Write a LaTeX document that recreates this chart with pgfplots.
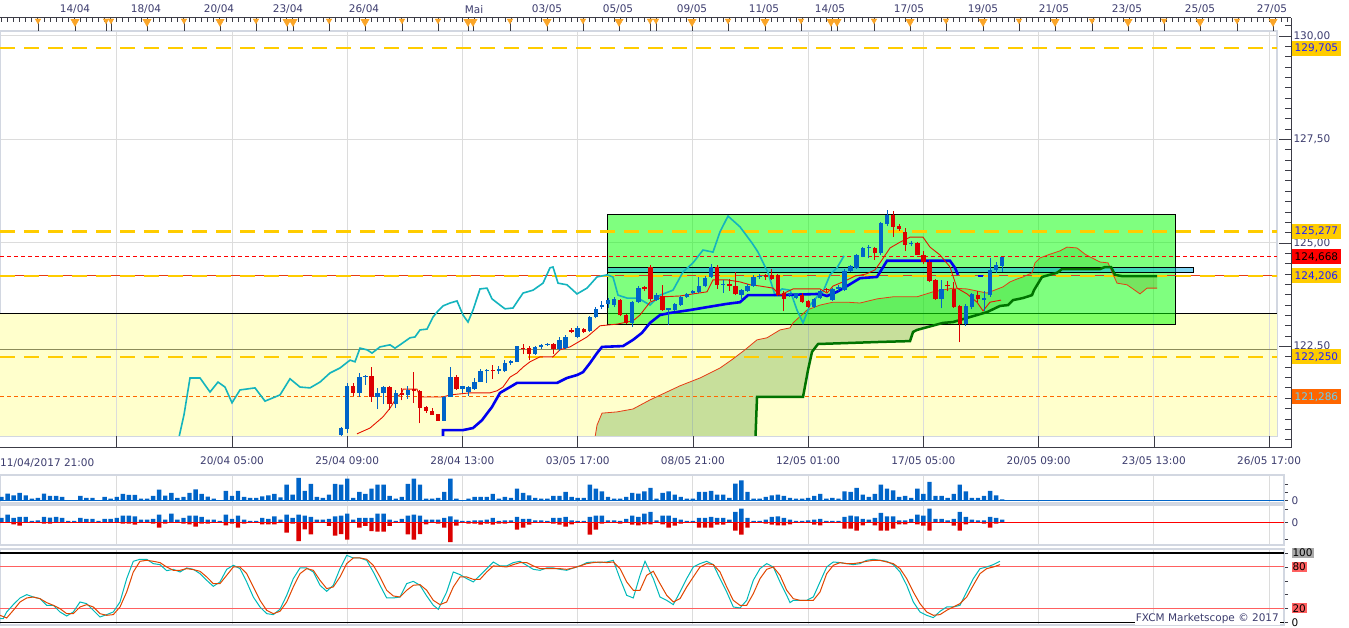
\documentclass[border=0pt]{standalone}
\usepackage{pgfplots}
\pgfplotsset{compat=1.18}
\usepackage{pgfplotstable}
\usepackage{fontspec}
\setmainfont{DejaVu Sans}
\setlength{\fboxsep}{1pt}
\definecolor{ybg}{RGB}{255,255,204}
\definecolor{cblue}{RGB}{0,100,200}
\definecolor{cred}{RGB}{220,0,0}
\definecolor{gold}{RGB}{255,204,0}
\definecolor{gridc}{RGB}{220,220,220}
\definecolor{framec}{RGB}{210,215,225}
\definecolor{txt}{RGB}{60,60,110}
\definecolor{axisc}{RGB}{60,60,70}
\definecolor{chik}{RGB}{20,180,190}
\definecolor{tenk}{RGB}{230,20,0}
\definecolor{kij}{RGB}{0,0,240}
\definecolor{senka}{RGB}{230,60,20}
\definecolor{senkb}{RGB}{0,115,0}
\definecolor{cloudg}{RGB}{51,140,25}
\definecolor{cloudr}{RGB}{200,80,50}
\definecolor{tri}{RGB}{250,165,40}
\definecolor{stk}{RGB}{0,185,185}
\definecolor{std}{RGB}{225,70,0}
\definecolor{olivl}{RGB}{140,140,90}
\definecolor{st80}{RGB}{255,96,96}
\definecolor{st100}{RGB}{170,170,170}
\definecolor{orng}{RGB}{255,102,0}
\definecolor{lblue}{RGB}{30,30,255}

\pgfplotstableread{
i o h l c
56 120.36 120.55 120.34 120.53
57 120.51 121.61 120.42 121.55
59 121.38 121.85 121.29 121.77
60 121.76 121.80 121.57 121.79
62 121.29 121.50 120.99 121.38
63 121.37 121.55 121.11 121.51
65 121.10 121.45 121.01 121.38
67 121.33 121.55 121.24 121.45
73 120.71 121.31 120.71 121.29
74 121.29 122.01 121.29 121.77
76 121.47 121.55 121.38 121.55
77 121.41 121.55 121.30 121.51
78 121.47 121.75 121.45 121.65
79 121.64 121.95 121.64 121.91
80 121.90 121.95 121.62 121.93
82 121.90 122.03 121.84 121.95
83 121.90 122.18 121.88 122.10
84 122.09 122.18 122.05 122.15
85 122.13 122.52 122.13 122.50
88 122.33 122.51 122.30 122.48
89 122.48 122.57 122.45 122.53
90 122.53 122.58 122.51 122.56
92 122.43 122.72 122.40 122.66
93 122.46 122.78 122.44 122.73
95 122.73 123.00 122.70 122.95
97 122.88 123.24 122.86 123.22
98 123.22 123.45 123.18 123.41
99 123.46 123.60 123.40 123.50
100 123.53 123.66 123.44 123.62
101 123.50 123.70 123.45 123.65
104 123.07 123.60 122.97 123.57
105 123.57 123.97 123.55 123.92
108 123.62 123.80 123.60 123.74
110 123.38 123.44 123.02 123.42
111 123.38 123.55 123.36 123.52
112 123.50 123.72 123.48 123.70
113 123.70 123.80 123.68 123.77
114 123.78 123.86 123.76 123.84
115 123.82 124.19 123.80 123.96
116 123.95 124.20 123.93 124.15
117 124.18 124.50 124.15 124.42
119 123.98 124.10 123.80 124.01
122 123.75 123.90 123.62 123.86
123 123.84 124.00 123.82 123.96
124 123.96 124.22 123.94 124.19
125 124.18 124.26 124.14 124.20
130 123.74 123.80 123.70 123.78
131 123.66 123.80 123.64 123.78
134 123.46 123.66 123.44 123.64
135 123.66 123.86 123.64 123.84
137 123.62 123.92 123.60 123.90
138 123.90 123.98 123.85 123.93
139 123.86 124.36 123.84 124.32
140 124.32 124.46 124.30 124.44
141 124.39 124.73 124.37 124.71
142 124.67 124.91 124.65 124.89
143 124.88 124.95 124.63 124.90
145 124.75 125.50 124.70 125.48
146 125.46 125.80 125.40 125.68
150 124.97 125.05 124.92 125.00
155 123.65 124.10 123.42 123.89
159 123.04 123.52 123.00 123.48
160 123.46 123.78 123.40 123.76
162 123.62 123.85 123.36 123.66
163 123.74 124.63 123.70 124.35
164 124.34 124.55 124.28 124.47
165 124.45 124.67 124.30 124.67
}\candleup

\pgfplotstableread{
i o h l c
58 121.55 121.62 121.30 121.38
61 121.79 122.00 121.17 121.29
64 121.51 121.55 120.97 121.10
66 121.38 121.50 121.20 121.33
68 121.48 121.88 121.13 121.42
69 121.42 121.45 120.64 121.02
70 121.04 121.07 120.90 120.94
71 120.95 121.02 120.85 120.85
72 120.87 120.87 120.71 120.71
75 121.77 121.82 121.45 121.47
81 121.93 122.05 121.71 121.90
86 122.47 122.55 122.31 122.43
87 122.47 122.51 122.17 122.33
91 122.56 122.58 122.31 122.43
94 122.90 122.95 122.82 122.85
96 122.92 122.95 122.83 122.86
102 123.62 123.64 123.24 123.26
103 123.26 123.28 123.05 123.07
106 123.93 123.97 123.84 123.88
107 124.43 124.48 123.60 123.64
109 123.72 123.98 123.36 123.38
118 124.42 124.47 123.90 123.99
120 124.00 124.12 123.85 123.97
121 123.96 124.31 123.74 123.76
126 124.22 124.25 124.10 124.17
127 124.22 124.38 124.10 124.14
128 124.22 124.25 123.72 123.75
129 123.78 123.85 123.35 123.65
132 123.74 123.78 123.55 123.57
133 123.60 123.62 123.44 123.46
136 123.90 123.92 123.82 123.86
144 124.89 124.91 124.59 124.75
147 125.68 125.78 125.15 125.39
148 125.42 125.45 125.30 125.34
149 125.26 125.36 124.80 124.95
151 124.99 125.02 124.70 124.72
152 124.72 124.80 124.49 124.53
153 124.55 124.58 124.05 124.08
154 124.10 124.12 123.63 123.65
156 123.98 124.07 123.84 123.95
157 123.89 124.05 123.44 123.46
158 123.48 123.50 122.60 123.04
161 123.74 123.85 123.58 123.64
}\candledown

\pgfplotstableread{
x y
178 120.20
184 120.85
190 121.74
200 121.74
210 121.40
218 121.64
225 121.52
232 121.14
240 121.45
255 121.50
265 121.18
280 121.33
290 121.72
300 121.52
310 121.50
320 121.64
330 121.86
340 121.98
350 122.17
355 122.13
360 122.46
367 122.42
372 122.34
380 122.49
390 122.54
395 122.46
400 122.54
410 122.71
415 122.73
420 122.90
427 122.92
433 123.21
437 123.33
443 123.48
450 123.55
457 123.60
463 123.26
468 123.09
473 123.38
480 123.89
487 123.91
492 123.65
500 123.50
505 123.41
513 123.43
523 123.79
533 123.86
543 124.03
550 124.40
553 124.42
558 124.03
567 123.99
577 123.77
587 123.91
597 124.18
607 124.23
613 124.18
618 123.74
627 123.67
638 123.67
650 123.50
660 123.74
673 123.86
683 124.30
693 124.52
703 124.83
713 124.78
720 125.27
728 125.65
740 125.39
752 125.00
758 124.78
768 124.28
775 123.74
782 123.89
790 123.86
797 123.38
803 123.07
810 123.50
817 123.70
823 123.82
830 124.23
837 124.40
844 124.69
}\chikou

\pgfplotstableread{
x y
357 120.39
370 120.53
383 120.80
390 121.01
397 121.28
402 121.38
403 121.47
417 121.47
420 121.28
443 121.28
450 121.33
470 121.38
490 121.38
497 121.43
503 121.52
510 121.76
517 121.86
523 122.00
530 122.13
540 122.25
553 122.25
560 122.42
570 122.49
587 122.73
600 123.00
617 123.04
633 123.12
640 123.26
650 123.57
663 123.70
680 123.72
693 123.77
707 123.82
713 124.11
727 124.11
740 124.06
750 123.99
760 123.96
773 123.91
780 123.74
793 123.89
820 123.89
827 123.79
833 123.96
845 124.08
855 124.20
866 124.25
875 124.35
880 124.52
890 124.88
900 125.02
910 125.14
923 125.14
930 124.90
940 124.71
950 124.42
957 123.91
967 123.77
977 123.57
983 123.36
990 123.57
1001 123.62
}\tenkan

\pgfplotstableread{
x y
443 120.20
443 120.48
463 120.48
473 120.53
482 120.72
492 121.04
500 121.38
510 121.52
517 121.62
557 121.62
567 121.74
577 121.81
583 121.88
590 122.10
597 122.34
602 122.49
623 122.51
633 122.66
642 122.83
650 123.07
660 123.26
670 123.31
690 123.38
707 123.45
727 123.53
740 123.57
748 123.74
780 123.74
820 123.77
827 123.72
837 123.82
847 123.96
860 124.15
877 124.18
887 124.57
950 124.57
955 124.40
958 124.23
}\kijun

\pgfplotstableread{
x y
593 120.00
597 120.60
602 120.89
617 120.92
633 120.99
650 121.21
665 121.38
680 121.55
700 121.74
720 121.98
733 122.20
745 122.42
757 122.66
767 122.71
780 122.90
790 122.95
793 123.07
807 123.38
820 123.50
833 123.57
847 123.57
860 123.55
877 123.65
893 123.70
917 123.70
933 123.82
953 123.91
967 123.89
987 123.79
1003 123.94
1010 124.06
1017 124.13
1023 124.18
1032 124.28
1035 124.52
1040 124.64
1050 124.73
1060 124.81
1067 124.90
1077 124.88
1085 124.73
1092 124.64
1100 124.54
1108 124.52
1112 124.30
1117 124.03
1127 123.99
1133 123.89
1140 123.77
1147 123.91
1157 123.91
}\senkA

\pgfplotstableread{
x y
597 120.00
755 120.00
757 121.28
803 121.28
808 121.93
812 122.37
818 122.56
880 122.61
910 122.63
913 122.85
917 122.90
943 123.07
953 123.09
967 123.19
977 123.26
987 123.33
1000 123.48
1008 123.50
1013 123.62
1023 123.67
1032 123.74
1034 123.86
1042 124.18
1057 124.28
1062 124.37
1100 124.37
1105 124.42
1111 124.42
1115 124.23
1122 124.20
1157 124.20
}\senkB

% cloud outlines: senkou A forward, senkou B backward (A above B)
\pgfplotstableread{
x y
593 120.00
597 120.60
602 120.89
617 120.92
633 120.99
650 121.21
665 121.38
680 121.55
700 121.74
720 121.98
733 122.20
745 122.42
757 122.66
767 122.71
780 122.90
790 122.95
793 123.07
807 123.38
820 123.50
833 123.57
847 123.57
860 123.55
877 123.65
893 123.70
917 123.70
933 123.82
953 123.91
967 123.89
987 123.79
1003 123.94
1010 124.06
1017 124.13
1023 124.18
1032 124.28
1035 124.52
1040 124.64
1050 124.73
1060 124.81
1067 124.90
1077 124.88
1085 124.73
1092 124.64
1100 124.54
1108 124.52
1110.5 124.41
1105 124.42
1100 124.37
1062 124.37
1057 124.28
1042 124.18
1034 123.86
1032 123.74
1023 123.67
1013 123.62
1008 123.50
1000 123.48
987 123.33
977 123.26
967 123.19
953 123.09
943 123.07
917 122.90
913 122.85
910 122.63
880 122.61
818 122.56
812 122.37
808 121.93
803 121.28
757 121.28
755 120.00
597 120.00
}\cloudbull

% cloud part where senkou A is below senkou B
\pgfplotstableread{
x y
1110.5 124.41
1112 124.30
1117 124.03
1127 123.99
1133 123.89
1140 123.77
1147 123.91
1157 123.91
1157 124.20
1122 124.20
1115 124.23
1111 124.42
}\cloudbear

\pgfplotstableread{
i v u d
0 10 13 0
1 20 23 0
2 15 13 -6
3 22 16 -10
4 15 16 0
5 5 4 0
6 7 6 0
7 20 16 -4
8 13 14 -4
9 13 16 0
10 10 13 0
11 0 4 0
12 0 4 0
13 13 13 0
14 7 10 0
15 7 10 0
16 0 4 0
17 10 10 0
18 5 10 0
19 10 13 0
20 19 20 -4
21 16 20 -4
22 16 18 -7
23 5 8 0
24 5 8 0
25 13 10 -4
26 32 23 -16
27 14 8 -4
28 22 26 0
29 7 8 0
30 10 13 -4
31 22 20 -6
32 33 20 -13
33 19 16 -4
34 11 8 -4
35 5 8 0
36 0 4 0
37 28 23 -9
38 13 10 -4
39 28 20 -16
40 10 8 -4
41 7 4 0
42 7 4 0
43 12 13 -6
44 15 10 -6
45 19 18 -6
46 9 8 0
47 47 23 -31
48 17 13 -4
49 67 23 -56
50 28 20 -21
51 49 16 -36
52 10 8 0
53 7 8 0
54 17 10 -11
55 49 18 -40
56 47 20 -35
57 65 26 -52
58 7 8 0
59 25 13 -16
60 19 13 -11
61 35 13 -26
62 47 26 -28
63 47 26 -28
64 13 8 -11
65 5 4 0
66 10 10 0
67 49 20 -36
68 65 23 -52
69 47 20 -35
70 5 8 -6
71 5 8 0
72 7 8 -4
73 25 13 -16
74 65 18 -59
75 5 8 -10
76 0 4 0
77 5 4 -4
78 10 6 -4
79 10 6 -7
80 10 8 -4
81 19 13 -7
82 5 4 -4
83 10 6 -4
84 7 6 0
85 35 16 -22
86 22 10 -16
87 15 10 -7
88 7 6 0
89 5 6 0
90 5 4 0
91 13 13 -4
92 13 13 -7
93 25 16 -13
94 10 6 -6
95 7 4 0
96 7 4 0
97 47 16 -37
98 35 20 -22
99 27 20 -4
100 10 6 0
101 5 6 0
102 5 4 -4
103 10 10 0
104 22 20 -7
105 20 16 -9
106 27 26 -6
107 37 31 -6
108 5 6 0
109 22 20 -6
110 27 20 -16
111 17 13 -10
112 10 8 -4
113 5 4 0
114 5 4 0
115 25 13 -16
116 25 13 -16
117 28 16 -16
118 17 13 -7
119 17 13 -7
120 7 8 0
121 50 31 -25
122 60 41 -37
123 25 13 -16
124 5 4 0
125 5 4 0
126 10 8 -4
127 15 16 -7
128 17 18 -9
129 13 13 -9
130 7 8 -6
131 5 4 0
132 5 4 0
133 7 6 0
134 13 8 -7
135 19 10 -9
136 5 4 0
137 7 4 0
138 5 4 0
139 27 16 -19
140 25 20 -19
141 37 18 -25
142 17 10 -9
143 10 8 0
144 19 13 -9
145 47 28 -25
146 35 18 -25
147 30 18 -19
148 10 6 -6
149 13 6 -6
150 7 10 0
151 35 23 -6
152 19 20 -10
153 55 41 -25
154 13 10 0
155 13 10 0
156 7 6 0
157 19 10 -10
158 47 31 -25
159 27 16 -6
160 7 8 0
161 7 6 0
162 13 6 -4
163 28 16 -16
164 15 13 -4
165 3 8 0
}\voltab

\pgfplotstableread{
x y
0 5.3
3.3 5.3
6.7 14.9
13.3 25.5
20 35.1
26.7 39.9
33.3 36.5
40 34.1
46.7 24.5
53.3 24.5
60 14.9
66.7 9.1
73.3 14.9
80 29.3
86.7 26.9
93.3 17.3
100 7.7
106.7 11.1
113.3 14.9
120 29.3
126.7 63.0
133.3 88.0
140 90.9
146.7 90.9
153.3 84.6
160 83.2
166.7 74.5
173.3 76.4
180 72.6
186.7 78.4
193.3 76.4
200 70.2
206.7 60.6
213.3 51.9
220 58.2
226.7 76.4
233.3 82.2
240 77.4
246.7 58.2
253.3 36.5
260 22.1
266.7 12.5
273.3 11.1
280 18.8
286.7 38.9
293.3 63.0
300 78.4
306.7 78.4
313.3 72.6
320 53.4
326.7 44.7
333.3 53.4
340 77.4
346.7 96.6
353.3 92.8
360 92.8
366.7 89.4
373.3 72.6
380 53.4
386.7 35.1
393.3 35.1
400 36.5
406.7 55.8
413.3 59.1
420 53.4
426.7 38.0
433.3 24.5
438.3 18.8
446.7 43.8
453.3 72.6
460 68.8
466.7 63.0
473.3 58.2
480 67.8
486.7 77.4
493.3 87.0
500 81.3
506.7 81.3
513.3 86.1
520 88.0
526.7 82.2
533.3 76.4
540 75.0
546.7 78.4
553.3 78.4
560 76.4
566.7 75.0
573.3 78.4
580 81.3
586.7 86.1
593.3 87.0
600 86.1
606.7 87.0
613.3 89.4
620 63.0
626.7 38.9
633.3 35.1
640 67.8
645 88.0
653.3 63.0
660 36.5
666.7 31.7
673.3 25.5
680 43.8
686.7 63.0
693.3 79.8
700 84.6
706.7 88.0
713.3 83.2
720 63.0
726.7 43.8
733.3 22.1
740 20.7
746.7 31.7
753.3 60.6
760 77.4
766.7 84.6
773.3 79.8
780 58.2
786.7 38.9
790 28.4
793.3 31.7
800 31.7
806.7 31.7
813.3 36.5
820 58.2
826.7 79.8
833.3 87.0
840 86.1
846.7 84.6
853.3 83.2
860 84.6
866.7 89.4
873.3 90.9
880 89.4
886.7 88.0
893.3 83.2
900 72.6
906.7 53.4
913.3 29.3
920 14.9
926.7 10.1
933.3 6.7
940 15.9
946.7 22.1
953.3 22.1
960 24.5
966.7 43.8
973.3 63.0
980 77.4
986.7 79.8
993.3 83.2
1000 88.0
}\stochK

\pgfplotstableread{
x y
0 10.1
6.7 6.3
13.3 17.3
20 29.3
26.7 35.1
33.3 36.5
40 34.1
46.7 28.4
53.3 24.5
60 19.7
66.7 12.5
73.3 12.5
80 22.1
86.7 25.5
93.3 22.1
100 12.5
106.7 10.1
113.3 11.1
120 22.1
126.7 43.8
133.3 72.6
140 88.0
146.7 89.4
153.3 88.0
160 86.1
166.7 79.8
173.3 75.0
180 75.0
186.7 77.4
193.3 76.0
200 73.6
206.7 65.4
213.3 55.8
220 55.8
226.7 67.8
233.3 79.8
240 79.8
246.7 70.2
253.3 51.0
260 31.7
266.7 17.3
273.3 12.5
280 15.9
286.7 29.3
293.3 51.0
300 70.2
306.7 77.4
313.3 75.0
320 60.6
326.7 48.6
333.3 51.0
340 65.4
346.7 84.6
353.3 92.8
360 92.8
366.7 90.9
373.3 82.2
380 65.4
386.7 46.2
393.3 38.0
400 36.5
406.7 46.2
413.3 53.4
420 54.3
426.7 46.2
433.3 31.7
440 25.5
446.7 29.3
453.3 51.0
460 65.4
466.7 65.4
473.3 62.0
480 62.0
486.7 72.6
493.3 81.3
500 80.8
506.7 79.8
513.3 83.2
520 86.1
526.7 86.1
533.3 81.3
540 77.4
546.7 77.4
553.3 77.4
560 77.4
566.7 76.4
573.3 78.4
580 81.3
586.7 84.6
593.3 86.1
600 87.0
606.7 86.1
613.3 87.0
620 77.4
626.7 58.2
633.3 46.2
640 46.2
646.7 67.8
653.3 73.6
660 55.8
666.7 38.9
673.3 29.3
680 34.1
686.7 51.0
693.3 65.4
700 79.8
706.7 84.6
713.3 83.2
720 72.6
726.7 51.0
733.3 31.7
740 24.5
746.7 24.5
753.3 41.3
760 63.0
766.7 76.4
773.3 79.8
780 67.8
786.7 46.2
793.3 34.1
800 31.7
806.7 31.7
813.3 31.7
820 43.8
826.7 70.2
833.3 82.2
840 86.1
846.7 84.6
853.3 84.6
860 86.1
866.7 88.0
873.3 89.4
880 89.4
886.7 87.0
893.3 84.6
900 77.4
906.7 63.0
913.3 43.8
920 26.9
926.7 14.9
933.3 10.1
940 11.1
946.7 17.3
953.3 22.1
960 26.9
966.7 36.5
973.3 53.4
980 70.2
986.7 77.4
993.3 79.8
1000 83.2
}\stochD

\newcommand{\gridx}{116.7,232.0,347.2,462.4,577.7,692.9,808.1,923.4,1038.6,1153.9,1269.1}
\newcommand{\lblfont}{\fontsize{10.5}{12}\selectfont}

\begin{document}
\begin{tikzpicture}
\useasboundingbox (0pt,0pt) rectangle (1349pt,628pt);
\fill[white] (0pt,0pt) rectangle (1349pt,628pt);

% ---------------- main price panel ----------------
\begin{axis}[at={(0pt,192pt)}, anchor=south west, scale only axis,
  width=1277pt, height=405pt, xmin=0, xmax=1277, ymin=120.338, ymax=130.121,
  axis line style={draw=framec, line width=2pt},
  xtick/.expanded={\gridx}, ytick={125,127.5,130},
  xticklabels={}, yticklabels={}, xtick style={draw=none}, ytick style={draw=none},
  grid=major, grid style={draw=gridc, line width=1pt}, unbounded coords=jump]
\fill[ybg] (axis cs:0,120.338) rectangle (axis cs:1277,123.285);
\addplot[draw=gridc, line width=1pt] coordinates {(116.7,120.3) (116.7,123.285) (116.7,nan) (232.0,120.3) (232.0,123.285) (232.0,nan) (347.2,120.3) (347.2,123.285) (347.2,nan) (462.4,120.3) (462.4,123.285) (462.4,nan) (577.7,120.3) (577.7,123.285) (577.7,nan) (692.9,120.3) (692.9,123.285) (692.9,nan) (808.1,120.3) (808.1,123.285) (808.1,nan) (923.4,120.3) (923.4,123.285) (923.4,nan) (1038.6,120.3) (1038.6,123.285) (1038.6,nan) (1153.9,120.3) (1153.9,123.285) (1153.9,nan) (1269.1,120.3) (1269.1,123.285)};
\addplot[black, line width=1pt] coordinates {(0,123.285) (1277,123.285)};
\addplot[olivl, line width=1pt] coordinates {(0,122.43) (1277,122.43)};
% cloud fills
\addplot[fill=cloudg, fill opacity=0.27, draw=none] table {\cloudbull};
\addplot[fill=cloudr, fill opacity=0.3, draw=none] table {\cloudbear};
% rectangles
\draw[black, line width=1pt, fill=green, fill opacity=0.5] (axis cs:607,123.02) rectangle (axis cs:1175,125.68);
\draw[black, line width=1pt, fill=cyan, fill opacity=0.5] (axis cs:607,124.28) rectangle (axis cs:1193,124.40);
% levels
\addplot[senka, line width=0.8pt] coordinates {(0,124.206) (1277,124.206)};
\addplot[gold, line width=2.5pt, dash pattern=on 15pt off 9pt] coordinates {(0,129.705) (1277,129.705)};
\addplot[gold, line width=2.5pt, dash pattern=on 15pt off 9pt] coordinates {(0,125.277) (1277,125.277)};
\addplot[gold, line width=2.5pt, dash pattern=on 15pt off 9pt] coordinates {(0,124.206) (1277,124.206)};
\addplot[gold, line width=2.5pt, dash pattern=on 15pt off 9pt] coordinates {(0,122.250) (1277,122.250)};
\addplot[red, line width=1pt, dash pattern=on 4pt off 3pt] coordinates {(0,124.668) (1277,124.668)};
\addplot[orng, line width=1pt, dash pattern=on 4pt off 3pt] coordinates {(0,121.286) (1277,121.286)};
% indicator lines
\addplot[senka, line width=0.8pt] table {\senkA};
\addplot[senkb, line width=2.5pt] table {\senkB};
\addplot[chik, line width=1.6pt] table {\chikou};
\addplot[kij, line width=2.6pt] table {\kijun};
\addplot[kij, line width=2.6pt] coordinates {(978,124.20) (983,124.20)};
\addplot[tenk, line width=0.9pt] table {\tenkan};
% candles: wicks
\addplot[draw=none, mark=none, error bars/.cd, y dir=plus, y explicit, error mark=none,
  error bar style={draw=cblue, line width=1pt}]
  table[x expr=6.065*\thisrow{i}+1.5, y=l, y error plus expr=\thisrow{h}-\thisrow{l}] {\candleup};
\addplot[draw=none, mark=none, error bars/.cd, y dir=plus, y explicit, error mark=none,
  error bar style={draw=cred, line width=1pt}]
  table[x expr=6.065*\thisrow{i}+1.5, y=l, y error plus expr=\thisrow{h}-\thisrow{l}] {\candledown};
% candles: bodies
\addplot[draw=none, mark=none, error bars/.cd, y dir=plus, y explicit, error mark=none,
  error bar style={draw=cblue, line width=4.4pt}]
  table[x expr=6.065*\thisrow{i}+1.5, y=o, y error plus expr={max(\thisrow{c}-\thisrow{o},0.03)}] {\candleup};
\addplot[draw=none, mark=none, error bars/.cd, y dir=plus, y explicit, error mark=none,
  error bar style={draw=cred, line width=4.4pt}]
  table[x expr=6.065*\thisrow{i}+1.5, y=c, y error plus expr={max(\thisrow{o}-\thisrow{c},0.03)}] {\candledown};
\end{axis}

% ---------------- price scale and time axis ----------------
\begin{axis}[at={(0pt,180pt)}, anchor=south west, scale only axis,
  width=1291pt, height=430pt, xmin=0, xmax=1291, ymin=120.048, ymax=130.435,
  axis x line*=bottom, axis y line*=right, clip=false,
  axis line style={draw=axisc, line width=1pt}, tick style={draw=axisc, line width=0.8pt},
  tick align=inside, major tick length=12pt, minor tick length=6pt,
  xtick/.expanded={\gridx},
  xticklabels={,20/04 05:00,25/04 09:00,28/04 13:00,03/05 17:00,08/05 21:00,12/05 01:00,17/05 05:00,20/05 09:00,23/05 13:00,26/05 17:00},
  minor x tick num=7,
  ytick={122.5,125,127.5,130}, yticklabels={{122,50},{125,00},{127,50},{130,00}},
  minor ytick={120.25,120.5,...,130.3},
  tick label style={font=\lblfont, text=txt},
  xticklabel style={yshift=-5pt}, yticklabel style={xshift=-1pt}]
\node[anchor=west, font=\lblfont, text=txt, inner sep=0pt] at (axis cs:0,119.68) {11/04/2017 21:00};
\tikzset{lbl/.style={anchor=west, font=\lblfont, inner xsep=2.5pt, inner ysep=2.5pt, minimum width=48pt, minimum height=15pt}}
\node[lbl, fill=gold, text=lblue] at (axis cs:1292,129.705) {129,705};
\node[lbl, fill=gold, text=lblue] at (axis cs:1292,125.277) {125,277};
\node[lbl, fill=red, text=black] at (axis cs:1292,124.668) {124,668};
\node[lbl, fill=gold, text=lblue] at (axis cs:1292,124.206) {124,206};
\node[lbl, fill=gold, text=lblue] at (axis cs:1292,122.250) {122,250};
\node[lbl, fill=orng, text=cyan!60!white] at (axis cs:1292,121.286) {121,286};
\end{axis}

% ---------------- top date ruler ----------------
\begin{axis}[at={(0pt,597pt)}, anchor=south west, scale only axis,
  width=1291pt, height=13pt, xmin=0, xmax=1291, ymin=0, ymax=1,
  axis x line*=top, axis y line=none, clip=false,
  axis line style={draw=axisc, line width=1pt},
  xtick={75,146,219,288,364,474,547,618,692,764,830,909,983,1054,1127,1200,1272},
  xticklabels={14/04,18/04,20/04,23/04,26/04,Mai,03/05,05/05,09/05,11/05,14/05,17/05,19/05,21/05,23/05,25/05,27/05},
  major tick length=0pt, minor xtick={1.5,7.565,...,1291}, minor tick length=4pt,
  tick align=inside, tick style={draw=axisc, line width=0.8pt},
  tick label style={font=\lblfont, text=txt}, xticklabel style={yshift=1pt}]
\addplot[ycomb, draw=axisc, line width=0.8pt] coordinates {
(38,0.8) (75,0.8) (106,0.8) (111,0.8) (147,0.8) (184,0.8) (220,0.8) (256,0.8) (287,0.8) (293,0.8)
(329,0.8) (365,0.8) (402,0.8) (438,0.8) (468,0.8) (473,0.8) (510,0.8) (547,0.8) (583,0.8) (619,0.8)
(650,0.8) (656,0.8) (692,0.8) (728,0.8) (765,0.8) (801,0.8) (831,0.8) (837,0.8) (874,0.8) (910,0.8)
(946,0.8) (983,0.8) (1019,0.8) (1055,0.8) (1092,0.8) (1128,0.8) (1164,0.8) (1200,0.8) (1237,0.8) (1273,0.8)};
\addplot[only marks, mark=triangle*, mark size=3.2pt, mark options={rotate=180, fill=tri, draw=tri}] coordinates {
(38,0.8) (106,0.8) (111,0.8) (184,0.8) (256,0.8) (329,0.8) (402,0.8) (438,0.8) (510,0.8) (583,0.8)
(650,0.8) (656,0.8) (728,0.8) (801,0.8) (874,0.8) (946,0.8) (1019,0.8) (1092,0.8) (1164,0.8) (1237,0.8)};
\addplot[only marks, mark=triangle*, mark size=4.8pt, mark options={rotate=180, fill=tri, draw=tri}] coordinates {
(75,0.72) (147,0.72) (220,0.72) (287,0.72) (293,0.72) (365,0.72) (468,0.72) (473,0.72) (547,0.72) (619,0.72)
(692,0.72) (765,0.72) (831,0.72) (837,0.72) (910,0.72) (983,0.72) (1055,0.72) (1128,0.72) (1200,0.72) (1273,0.72)};
\end{axis}

% ---------------- volume panel ----------------
\begin{axis}[at={(0pt,125.3pt)}, anchor=south west, scale only axis,
  width=1284pt, height=27.4pt, xmin=0, xmax=1284, ymin=-7.2, ymax=75,
  axis line style={draw=framec, line width=2pt},
  xtick/.expanded={\gridx}, xticklabels={}, xtick style={draw=none},
  xmajorgrids=true, grid style={draw=gridc, line width=1pt},
  ytick={0,25,50}, yticklabels={0,,}, ytick pos=right, yticklabel pos=right,
  tick align=outside, major tick length=4pt, ytick style={draw=axisc},
  tick label style={font=\lblfont, text=txt}]
\addplot[cblue, line width=1.2pt] coordinates {(0,0) (1284,0)};
\addplot[ybar, bar width=4.4pt, bar shift=0pt, fill=cblue, draw=none]
  table[x expr=6.065*\thisrow{i}+1.5, y=v] {\voltab};
\end{axis}

% ---------------- signed volume panel ----------------
\begin{axis}[at={(0pt,83.3pt)}, anchor=south west, scale only axis,
  width=1284pt, height=39.4pt, xmin=0, xmax=1284, ymin=-67, ymax=51,
  axis line style={draw=framec, line width=2pt},
  xtick/.expanded={\gridx}, xticklabels={}, xtick style={draw=none},
  xmajorgrids=true, grid style={draw=gridc, line width=1pt},
  ytick={-50,0,40}, yticklabels={,0,}, ytick pos=right, yticklabel pos=right,
  tick align=outside, major tick length=4pt, ytick style={draw=axisc},
  tick label style={font=\lblfont, text=txt}]
\addplot[ybar, bar width=4.4pt, bar shift=0pt, fill=cblue, draw=none]
  table[x expr=6.065*\thisrow{i}+1.5, y=u] {\voltab};
\addplot[ybar, bar width=4.4pt, bar shift=0pt, fill=cred, draw=none]
  table[x expr=6.065*\thisrow{i}+1.5, y=d] {\voltab};
\addplot[red, line width=1.2pt] coordinates {(0,0) (1284,0)};
\end{axis}

% ---------------- stochastic panel ----------------
\begin{axis}[at={(0pt,2.7pt)}, anchor=south west, scale only axis,
  width=1284pt, height=76pt, xmin=0, xmax=1284, ymin=-4.3, ymax=105.3,
  axis line style={draw=framec, line width=2pt},
  xtick/.expanded={\gridx}, xticklabels={}, xtick style={draw=none},
  xmajorgrids=true, grid style={draw=gridc, line width=1pt},
  ytick={0,20,40,60,80,100},
  yticklabels={0,{\colorbox{st80}{20}},,,{\colorbox{st80}{80}},{\colorbox{st100}{100}}},
  ytick pos=right, yticklabel pos=right,
  tick align=outside, major tick length=4pt, ytick style={draw=axisc},
  tick label style={font=\lblfont, text=black}, clip=false]
\addplot[black, line width=1.5pt] coordinates {(0,100) (1284,100)};
\addplot[black, line width=1.5pt] coordinates {(0,0) (1284,0)};
\addplot[st80, line width=1pt] coordinates {(0,80) (1284,80)};
\addplot[st80, line width=1pt] coordinates {(0,20) (1284,20)};
\addplot[stk, line width=1pt] table {\stochK};
\addplot[std, line width=1pt] table {\stochD};
\node[anchor=east, fill=white, inner sep=1pt, font=\lblfont, text=txt] at (axis cs:1280,4.8) {FXCM Marketscope © 2017};
\end{axis}
\end{tikzpicture}
\end{document}
